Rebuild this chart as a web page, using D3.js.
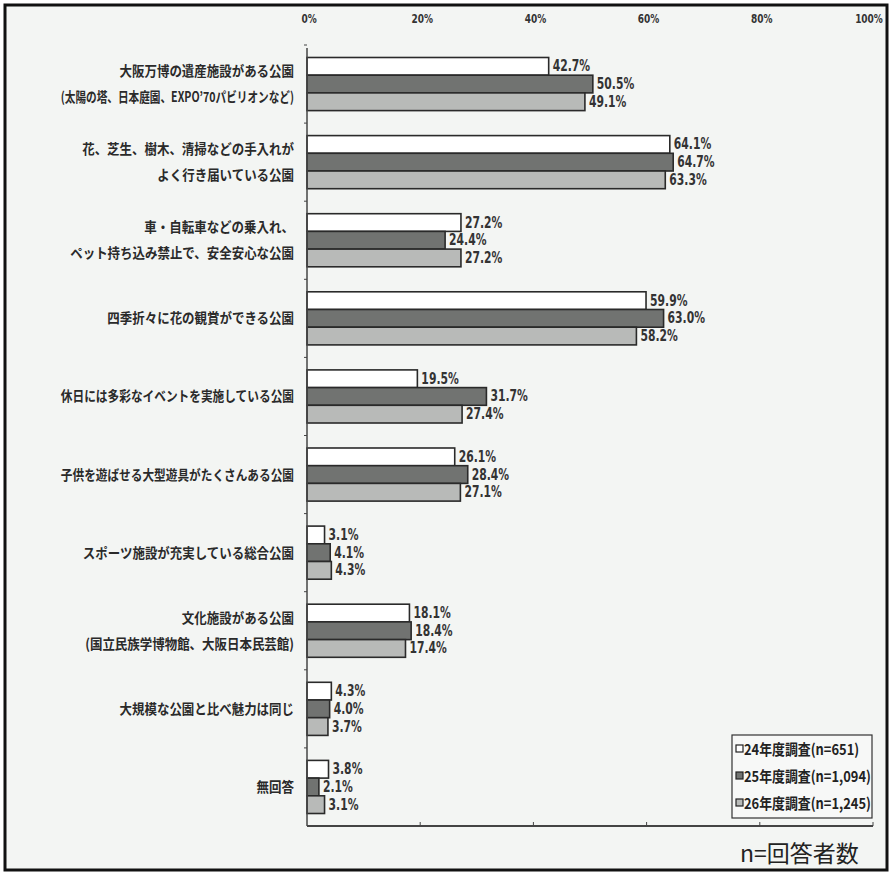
<!DOCTYPE html>
<html>
<head>
<meta charset="utf-8">
<script src="https://cdn.jsdelivr.net/npm/d3@7"></script>
<style>
  body { margin: 0; background: #fff; }
  svg { display: block; }
</style>
</head>
<body>
<div id="chart"></div>
<script>
// 公園のイメージ（複数回答）
const categories = [
    ['大阪万博の遺産施設がある公園', '(太陽の塔、日本庭園、EXPO’70パビリオンなど)'],
    ['花、芝生、樹木、清掃などの手入れが', 'よく行き届いている公園'],
    ['車・自転車などの乗入れ、', 'ペット持ち込み禁止で、安全安心な公園'],
    ['四季折々に花の観賞ができる公園'],
    ['休日には多彩なイベントを実施している公園'],
    ['子供を遊ばせる大型遊具がたくさんある公園'],
    ['スポーツ施設が充実している総合公園'],
    ['文化施設がある公園', '(国立民族学博物館、大阪日本民芸館)'],
    ['大規模な公園と比べ魅力は同じ'],
    ['無回答']
];
const seriesNames = ['24年度調査(n=651)', '25年度調査(n=1,094)', '26年度調査(n=1,245)'];
const values24 = [42.7, 64.1, 27.2, 59.9, 19.5, 26.1, 3.1, 18.1, 4.3, 3.8];
const values25 = [50.5, 64.7, 24.4, 63.0, 31.7, 28.4, 4.1, 18.4, 4.0, 2.1];
const values26 = [49.1, 63.3, 27.2, 58.2, 27.4, 27.1, 4.3, 17.4, 3.7, 3.1];
const tickValues = [0, 20, 40, 60, 80, 100];

const allSeries = [values24, values25, values26];
const fills = ['#ffffff', '#717371', '#b8bab8'];

const width = 891, height = 874;
const margin = { top: 45, right: 18, bottom: 48, left: 307 };

const svg = d3.select('#chart').append('svg')
    .attr('width', width)
    .attr('height', height);

// paper background + frame
svg.append('rect')
    .attr('x', 5).attr('y', 5)
    .attr('width', width - 9).attr('height', height - 9)
    .attr('fill', '#f3f5f3')
    .attr('stroke', '#111')
    .attr('stroke-width', 3);

const x = d3.scaleLinear()
    .domain([0, 100])
    .range([margin.left, width - margin.right]);

const y = d3.scaleBand()
    .domain(d3.range(categories.length))
    .range([margin.top, height - margin.bottom])
    .paddingInner(0.32)
    .paddingOuter(0.16);

const ySub = d3.scaleBand()
    .domain(d3.range(3))
    .range([0, y.bandwidth()]);

const condensed = '"DejaVu Sans Condensed", "Liberation Sans Narrow", sans-serif';
const jp = '"Noto Sans CJK JP", sans-serif';

// top tick labels
svg.append('g')
    .selectAll('text')
    .data(tickValues)
    .join('text')
    .attr('transform', d => `translate(${x(d) + (d === 100 ? -4 : 2)},23) scale(0.8,1)`)
    .attr('text-anchor', 'middle')
    .attr('font-family', condensed)
    .attr('font-size', 12.5)
    .attr('font-weight', 'bold')
    .attr('fill', '#333')
    .text(d => d + '%');

// bars
const groups = svg.append('g')
    .selectAll('g')
    .data(categories.map((c, i) => i))
    .join('g')
    .attr('transform', i => `translate(0,${y(i)})`);

groups.selectAll('rect')
    .data(i => allSeries.map((s, k) => ({ k: k, v: s[i] })))
    .join('rect')
    .attr('x', x(0))
    .attr('y', d => ySub(d.k))
    .attr('width', d => x(d.v) - x(0))
    .attr('height', ySub.bandwidth())
    .attr('fill', d => fills[d.k])
    .attr('stroke', '#2a2a2a')
    .attr('stroke-width', 1.6);

// value labels
groups.selectAll('text')
    .data(i => allSeries.map((s, k) => ({ k: k, v: s[i] })))
    .join('text')
    .attr('transform', d => `translate(${x(d.v) + 4},${ySub(d.k) + ySub.bandwidth() / 2 + 5}) scale(0.8,1)`)
    .attr('font-family', condensed)
    .attr('font-size', 15)
    .attr('font-weight', 'bold')
    .attr('fill', '#333')
    .text(d => d.v.toFixed(1) + '%');

// category labels
const labels = svg.append('g')
    .selectAll('text')
    .data(categories)
    .join('text')
    .attr('text-anchor', 'end')
    .attr('font-family', jp)
    .attr('font-size', 14)
    .attr('font-weight', 'bold')
    .attr('fill', '#2a2a2a')
    .attr('transform', (d, i) => `translate(294,${y(i) + y.bandwidth() / 2}) scale(0.89,1)`);

labels.selectAll('tspan')
    .data(d => d.map((line, j) => ({ line: line, j: j, n: d.length })))
    .join('tspan')
    .attr('x', 0)
    .attr('y', d => (d.j - (d.n - 1) / 2) * 26 + 5)
    .text(d => d.line);

// squeeze the long parenthetical lines to fit the label column
const maxLabel = 262;
labels.selectAll('tspan').each(function() {
    if (this.getComputedTextLength() > maxLabel) {
        d3.select(this)
            .attr('textLength', maxLabel)
            .attr('lengthAdjust', 'spacingAndGlyphs');
    }
});

// left axis with ticks between groups
const axisG = svg.append('g').attr('stroke', '#444');
axisG.append('line')
    .attr('x1', x(0)).attr('x2', x(0))
    .attr('y1', margin.top + 3).attr('y2', height - margin.bottom)
    .attr('stroke-width', 1.5);
axisG.selectAll('line.tick')
    .data(d3.range(categories.length))
    .join('line')
    .attr('class', 'tick')
    .attr('x1', x(0) - 3).attr('x2', x(0))
    .attr('y1', i => y(i) - y.step() * y.paddingInner() / 2)
    .attr('y2', i => y(i) - y.step() * y.paddingInner() / 2)
    .attr('stroke-width', 1);

// bottom axis line
axisG.append('line')
    .attr('x1', x(0)).attr('x2', x(100))
    .attr('y1', height - margin.bottom).attr('y2', height - margin.bottom)
    .attr('stroke-width', 2);
axisG.selectAll('line.xtick')
    .data(tickValues.slice(1))
    .join('line')
    .attr('class', 'xtick')
    .attr('x1', d => x(d)).attr('x2', d => x(d))
    .attr('y1', height - margin.bottom - 4).attr('y2', height - margin.bottom)
    .attr('stroke-width', 1);

// legend
const legend = svg.append('g').attr('transform', 'translate(732,735)');
legend.append('rect')
    .attr('width', 140).attr('height', 83)
    .attr('fill', '#f7f8f7')
    .attr('stroke', '#333')
    .attr('stroke-width', 1.2);
const items = legend.selectAll('g.item')
    .data(seriesNames)
    .join('g')
    .attr('class', 'item')
    .attr('transform', (d, i) => `translate(4,${14 + i * 27})`);
items.append('rect')
    .attr('x', 0).attr('y', -4)
    .attr('width', 7).attr('height', 7)
    .attr('fill', (d, i) => fills[i])
    .attr('stroke', '#222')
    .attr('stroke-width', 1.2);
items.append('text')
    .attr('transform', 'translate(8,5.5) scale(0.86,1)')
    .attr('font-family', jp)
    .attr('font-size', 15)
    .attr('font-weight', 'bold')
    .attr('fill', '#222')
    .text(d => d);

svg.append('text')
    .attr('x', 740).attr('y', 862)
    .attr('font-family', jp)
    .attr('font-size', 23)
    .attr('fill', '#222')
    .text('n=回答者数');
</script>
</body>
</html>
